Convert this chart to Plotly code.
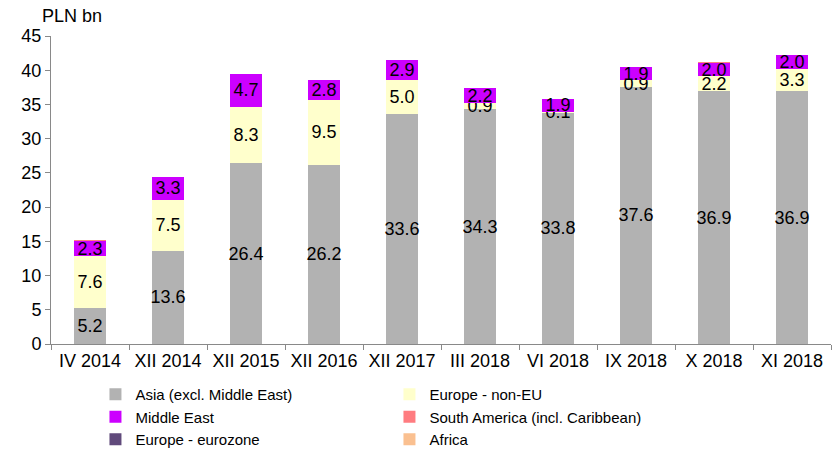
import plotly.graph_objects as go

categories = ["IV 2014", "XII 2014", "XII 2015", "XII 2016", "XII 2017",
              "III 2018", "VI 2018", "IX 2018", "X 2018", "XI 2018"]
asia = [5.2, 13.6, 26.4, 26.2, 33.6, 34.3, 33.8, 37.6, 36.9, 36.9]
europe_non_eu = [7.6, 7.5, 8.3, 9.5, 5.0, 0.9, 0.1, 0.9, 2.2, 3.3]
middle_east = [2.3, 3.3, 4.7, 2.8, 2.9, 2.2, 1.9, 1.9, 2.0, 2.0]
south_america = [0.05, 0.05, 0.05, 0.05, 0.05, 0.05, 0.05, 0.05, 0.05, 0.05]
europe_eurozone = [0.0, 0.0, 0.0, 0.0, 0.0, 0.0, 0.0, 0.0, 0.0, 0.0]
africa = [0.0, 0.0, 0.0, 0.0, 0.0, 0.0, 0.0, 0.0, 0.0, 0.0]

series = [
    ("Asia (excl. Middle East)", asia, "#B2B2B2", True),
    ("Europe - non-EU", europe_non_eu, "#FFFFCC", True),
    ("Middle East", middle_east, "#CC00FF", True),
    ("South America (incl. Caribbean)", south_america, "#FF7C80", False),
    ("Europe - eurozone", europe_eurozone, "#604A7B", False),
    ("Africa", africa, "#FAC090", False),
]

FONT = "Liberation Sans, Arial, sans-serif"

fig = go.Figure()
for name, vals, color, labelled in series:
    fig.add_trace(go.Bar(
        x=categories, y=vals, name=name,
        marker=dict(color=color, line=dict(width=0)),
        text=[f"{v:.1f}" for v in vals] if labelled else None,
        textposition="inside" if labelled else "none",
        insidetextanchor="middle",
        textangle=0,
        textfont=dict(family=FONT, size=18, color="black"),
        hoverinfo="skip",
        cliponaxis=False,
    ))

fig.update_layout(
    barmode="stack",
    bargap=0.6,
    width=840, height=454,
    margin=dict(l=51, r=9, t=36, b=110, autoexpand=False),
    plot_bgcolor="white", paper_bgcolor="white",
    font=dict(family=FONT, size=18, color="black"),
    uniformtext=dict(minsize=18, mode="show"),
    showlegend=True,
    legend=dict(
        orientation="h", x=0.057, xanchor="left",
        yref="container", y=1 - 378 / 454, yanchor="top",
        entrywidth=249, entrywidthmode="pixels",
        font=dict(family=FONT, size=15, color="black"),
        itemwidth=30, tracegroupgap=0, traceorder="normal",
    ),
    annotations=[dict(
        text="PLN bn", xref="paper", yref="paper", x=-0.014, y=1.065,
        xanchor="left", yanchor="middle", showarrow=False,
        font=dict(family=FONT, size=18, color="black"),
    )],
)
fig.update_xaxes(
    showline=True, linecolor="#898989", linewidth=1,
    ticks="outside", ticklen=5, tickcolor="#898989", tickson="boundaries",
    tickfont=dict(size=18), showgrid=False,
)
fig.update_yaxes(
    range=[0, 45], dtick=5, showline=True, linecolor="#898989", linewidth=1,
    ticks="outside", ticklen=5, tickcolor="#898989", showgrid=False,
    zeroline=False, tickfont=dict(size=18),
)

fig.write_html(
    "out.html",
    config={"displayModeBar": False, "staticPlot": True},
    post_script="document.body.style.margin='0px';document.body.style.overflow='hidden';",
)
